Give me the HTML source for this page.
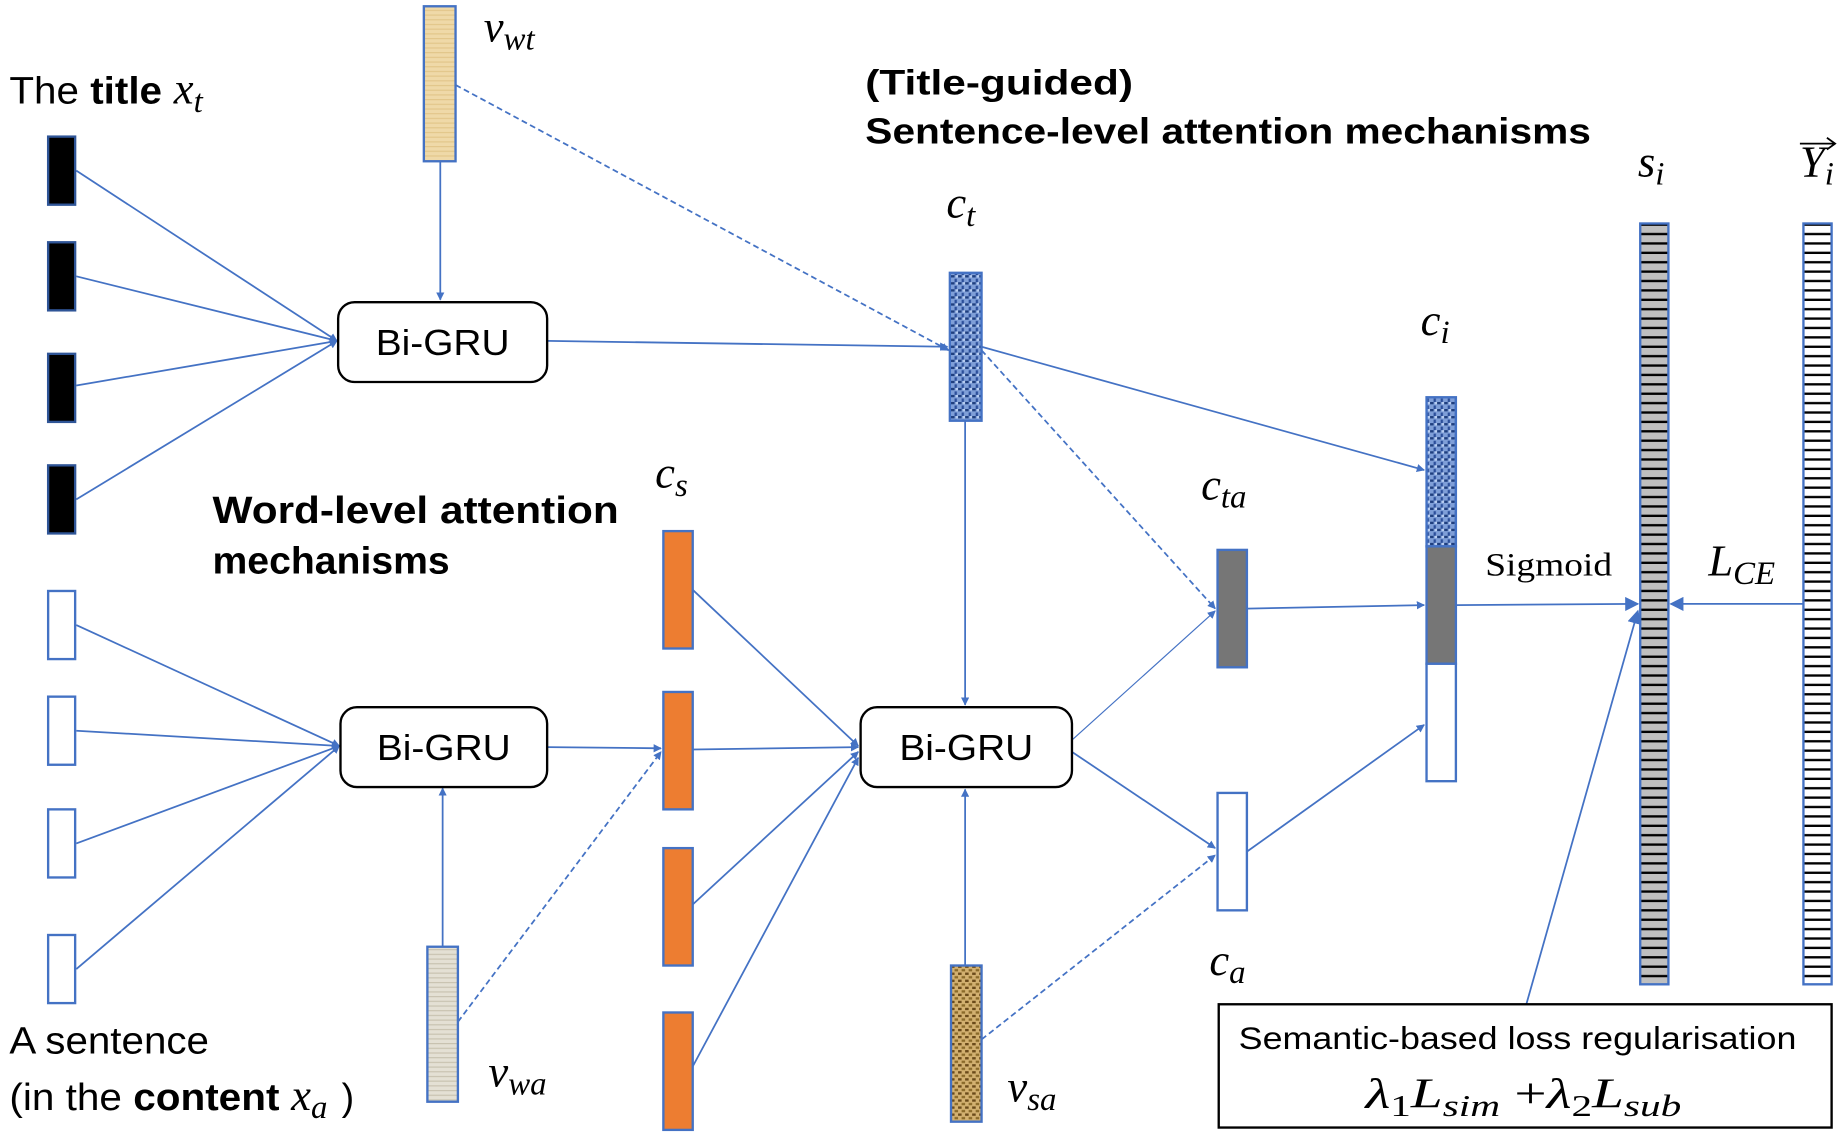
<!DOCTYPE html>
<html><head><meta charset="utf-8"><style>
html,body{margin:0;padding:0;background:#fff;}
svg{display:block;}
.s{font-family:"Liberation Sans","Noto Sans CJK SC",sans-serif;}
.m{font-family:"Liberation Serif",serif;font-style:italic;}
</style></head><body>
<svg width="1841" height="1135" viewBox="0 0 1568 966" xmlns="http://www.w3.org/2000/svg">
<defs>
<marker id="a" viewBox="0 0 10 10" refX="9" refY="5" markerWidth="7" markerHeight="7" orient="auto-start-reverse" markerUnits="userSpaceOnUse"><path d="M0,0L10,5L0,10z" fill="#4472c4"/></marker>
<marker id="b" viewBox="0 0 10 10" refX="9" refY="5" markerWidth="12" markerHeight="12" orient="auto" markerUnits="userSpaceOnUse"><path d="M0,0L10,5L0,10z" fill="#4472c4"/></marker>
<pattern id="blue" width="6" height="6" patternUnits="userSpaceOnUse"><rect width="6" height="6" fill="#7f9fd8"/><rect x="0" y="0" width="3" height="2" fill="#1f3f7f"/><rect x="3" y="3" width="2" height="3" fill="#2c4f9a"/><rect x="4" y="0" width="2" height="2" fill="#b8cdf0"/></pattern>
<pattern id="beige" width="4" height="4" patternUnits="userSpaceOnUse"><rect width="4" height="4" fill="#efd9a8"/><rect width="4" height="1" fill="#e2c68a"/></pattern>
<pattern id="gray" width="4" height="4" patternUnits="userSpaceOnUse"><rect width="4" height="4" fill="#e4e0d4"/><rect width="4" height="1" fill="#c8c2b0"/></pattern>
<pattern id="brown" width="6" height="6" patternUnits="userSpaceOnUse"><rect width="6" height="6" fill="#d2b070"/><rect width="3" height="2" fill="#6a4a1a"/><rect x="3" y="3" width="3" height="2" fill="#8a6a2a"/></pattern>
<pattern id="str1" width="10" height="8" patternUnits="userSpaceOnUse"><rect width="10" height="8" fill="#bfbfbf"/><rect y="6" width="10" height="2" fill="#000"/></pattern>
<pattern id="str2" width="10" height="8" patternUnits="userSpaceOnUse"><rect width="10" height="8" fill="#fff"/><rect y="6" width="10" height="2" fill="#000"/></pattern>
</defs>
<g stroke="#4472c4" stroke-width="1.5" fill="none">
<line x1="65" y1="145" x2="287" y2="290" marker-end="url(#a)"/>
<line x1="65" y1="235" x2="287" y2="290" marker-end="url(#a)"/>
<line x1="65" y1="328" x2="287" y2="290" marker-end="url(#a)"/>
<line x1="65" y1="425" x2="287" y2="290" marker-end="url(#a)"/>
<line x1="65" y1="532" x2="289" y2="635" marker-end="url(#a)"/>
<line x1="65" y1="622" x2="289" y2="635" marker-end="url(#a)"/>
<line x1="65" y1="718" x2="289" y2="635" marker-end="url(#a)"/>
<line x1="65" y1="825" x2="289" y2="635" marker-end="url(#a)"/>
<line x1="375" y1="137" x2="375" y2="255" marker-end="url(#a)"/>
<line x1="388" y1="72" x2="808" y2="298" stroke-dasharray="5,3" marker-end="url(#a)"/>
<line x1="466" y1="290" x2="807" y2="295" marker-end="url(#a)"/>
<line x1="466" y1="636" x2="563" y2="637" marker-end="url(#a)"/>
<line x1="377" y1="806" x2="377" y2="671" marker-end="url(#a)"/>
<line x1="390" y1="870" x2="563" y2="640" stroke-dasharray="5,3" marker-end="url(#a)"/>
<line x1="590" y1="502" x2="731" y2="635" marker-end="url(#a)"/>
<line x1="590" y1="638" x2="731" y2="636" marker-end="url(#a)"/>
<line x1="590" y1="770" x2="731" y2="640" marker-end="url(#a)"/>
<line x1="590" y1="908" x2="731" y2="645" marker-end="url(#a)"/>
<line x1="822" y1="358" x2="822" y2="600" marker-end="url(#a)"/>
<line x1="822" y1="822" x2="822" y2="672" marker-end="url(#a)"/>
<line x1="836" y1="885" x2="1035" y2="728" stroke-dasharray="5,3" marker-end="url(#a)"/>
<line x1="836" y1="295" x2="1213" y2="400" marker-end="url(#a)"/>
<line x1="836" y1="298" x2="1035" y2="518" stroke-dasharray="5,3" marker-end="url(#a)"/>
<line x1="913" y1="630" x2="1035" y2="520" stroke-width="1" marker-end="url(#a)"/>
<line x1="913" y1="640" x2="1035" y2="722" marker-end="url(#a)"/>
<line x1="1062" y1="518" x2="1213" y2="515" marker-end="url(#a)"/>
<line x1="1062" y1="725" x2="1213" y2="617" marker-end="url(#a)"/>
<line x1="1240" y1="515" x2="1395" y2="514" marker-end="url(#b)"/>
<line x1="1536" y1="514" x2="1423" y2="514" marker-end="url(#b)"/>
<line x1="1300" y1="855" x2="1395" y2="520" marker-end="url(#b)"/>
</g>
<g stroke="#2f5597" stroke-width="2">
<rect x="41" y="116" width="23" height="58" fill="#000"/>
<rect x="41" y="206" width="23" height="58" fill="#000"/>
<rect x="41" y="301" width="23" height="58" fill="#000"/>
<rect x="41" y="396" width="23" height="58" fill="#000"/>
</g>
<g stroke="#4472c4" stroke-width="2" fill="#fff">
<rect x="41" y="503" width="23" height="58"/>
<rect x="41" y="593" width="23" height="58"/>
<rect x="41" y="689" width="23" height="58"/>
<rect x="41" y="796" width="23" height="58"/>
<rect x="361" y="5" width="27" height="132" fill="url(#beige)"/>
<rect x="364" y="806" width="26" height="132" fill="url(#gray)"/>
<rect x="810" y="822" width="26" height="133" fill="url(#brown)"/>
<rect x="809" y="232" width="27" height="126" fill="url(#blue)"/>
<rect x="565" y="452" width="25" height="100" fill="#ed7d31"/>
<rect x="565" y="589" width="25" height="100" fill="#ed7d31"/>
<rect x="565" y="722" width="25" height="100" fill="#ed7d31"/>
<rect x="565" y="862" width="25" height="100" fill="#ed7d31"/>
<rect x="1037" y="468" width="25" height="100" fill="#767676"/>
<rect x="1037" y="675" width="25" height="100"/>
<rect x="1215" y="338" width="25" height="127" fill="url(#blue)"/>
<rect x="1215" y="465" width="25" height="100" fill="#767676"/>
<rect x="1215" y="565" width="25" height="100"/>
<rect x="1397" y="190" width="24" height="648" fill="url(#str1)"/>
<rect x="1536" y="190" width="24" height="648" fill="url(#str2)"/>
</g>
<g stroke="#000" stroke-width="2" fill="#fff">
<rect x="288" y="257" width="178" height="68" rx="14"/>
<rect x="290" y="602" width="176" height="68" rx="14"/>
<rect x="733" y="602" width="180" height="68" rx="14"/>
<rect x="1038" y="855" width="522" height="105"/>
</g>
<g class="s" font-size="31" fill="#000" lengthAdjust="spacingAndGlyphs">
<text x="320" y="302" textLength="114" lengthAdjust="spacingAndGlyphs">Bi-GRU</text>
<text x="321" y="647" textLength="114" lengthAdjust="spacingAndGlyphs">Bi-GRU</text>
<text x="766" y="647" textLength="114" lengthAdjust="spacingAndGlyphs">Bi-GRU</text>
</g>
<g class="s" fill="#000">
<text x="8" y="88" font-size="32"><tspan textLength="130" lengthAdjust="spacingAndGlyphs">The <tspan font-weight="bold">title</tspan></tspan></text>
<text x="148" y="88" class="m" font-size="38">x<tspan font-size="28" dy="7">t</tspan></text>
<text x="8" y="897" font-size="32" textLength="170" lengthAdjust="spacingAndGlyphs">A sentence</text>
<text x="8" y="945" font-size="32" textLength="230" lengthAdjust="spacingAndGlyphs">(in the <tspan font-weight="bold">content</tspan></text>
<text x="248" y="945" class="m" font-size="38">x<tspan font-size="28" dy="7">a</tspan></text>
<text x="291" y="945" font-size="32">)</text>
<text x="737" y="80" font-size="30" font-weight="bold" textLength="228" lengthAdjust="spacingAndGlyphs">(Title-guided)</text>
<text x="737" y="122" font-size="31" font-weight="bold" textLength="618" lengthAdjust="spacingAndGlyphs">Sentence-level attention mechanisms</text>
<text x="181" y="445" font-size="32" font-weight="bold" textLength="346" lengthAdjust="spacingAndGlyphs">Word-level attention</text>
<text x="181" y="488" font-size="32" font-weight="bold" textLength="202" lengthAdjust="spacingAndGlyphs">mechanisms</text>
<text x="1055" y="893" font-size="27" textLength="475" lengthAdjust="spacingAndGlyphs">Semantic-based loss regularisation</text>
</g>
<g class="m" fill="#000" font-size="38">
<text x="412" y="35">v<tspan font-size="28" dy="7">wt</tspan></text>
<text x="806" y="185">c<tspan font-size="28" dy="7">t</tspan></text>
<text x="558" y="415">c<tspan font-size="28" dy="7">s</tspan></text>
<text x="416" y="925">v<tspan font-size="28" dy="7">wa</tspan></text>
<text x="858" y="938">v<tspan font-size="28" dy="7">sa</tspan></text>
<text x="1023" y="425">c<tspan font-size="28" dy="7">ta</tspan></text>
<text x="1030" y="830">c<tspan font-size="28" dy="7">a</tspan></text>
<text x="1210" y="285">c<tspan font-size="28" dy="7">i</tspan></text>
<text x="1395" y="150">s<tspan font-size="28" dy="7">i</tspan></text>
<text x="1533" y="150">Y<tspan font-size="28" dy="7">i</tspan></text>
<text x="1455" y="490">L<tspan font-size="28" dy="7">CE</tspan></text>
<text x="1163" y="943" font-size="36" textLength="269" lengthAdjust="spacingAndGlyphs">λ<tspan font-size="26" dy="7" font-style="normal">1</tspan><tspan dy="-7">L</tspan><tspan font-size="26" dy="7">sim</tspan><tspan dy="-7" font-style="normal"> +</tspan>λ<tspan font-size="26" dy="7" font-style="normal">2</tspan><tspan dy="-7">L</tspan><tspan font-size="26" dy="7">sub</tspan></text>
</g>
<line x1="1533" y1="122" x2="1562" y2="122" stroke="#000" stroke-width="1.5"/>
<path d="M1556,117L1563,122L1556,127" stroke="#000" stroke-width="1.5" fill="none"/>
<text x="1265" y="490" font-family="Liberation Serif,serif" font-size="28" textLength="108" lengthAdjust="spacingAndGlyphs">Sigmoid</text>
</svg>
</body></html>
